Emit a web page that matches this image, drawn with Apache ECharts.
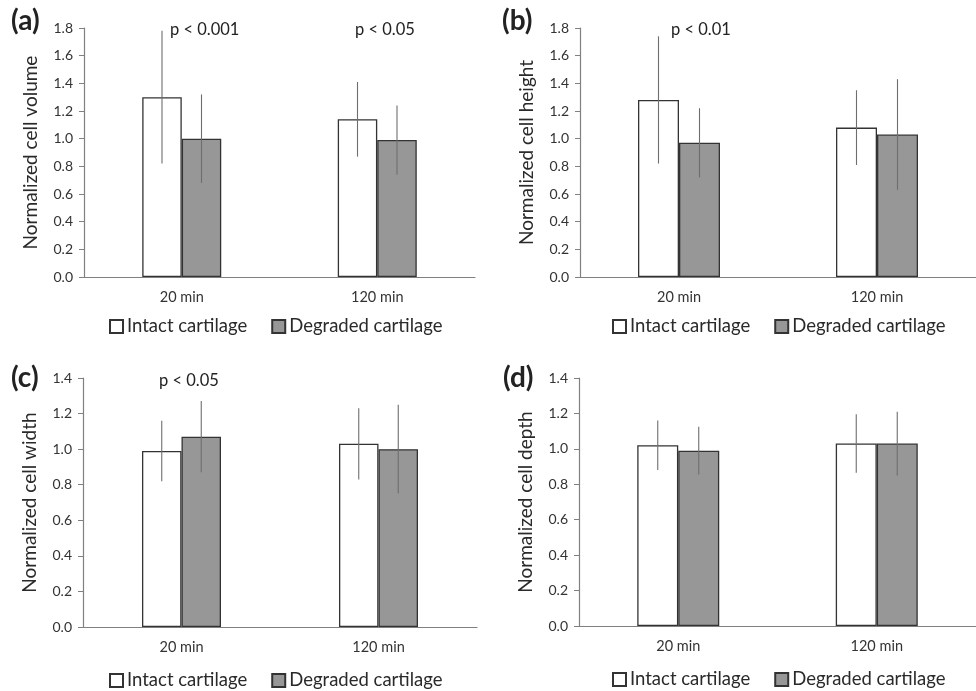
<!DOCTYPE html>
<html>
<head>
<meta charset="utf-8">
<script src="https://cdn.jsdelivr.net/npm/echarts@6/dist/echarts.min.js"></script>
<style>
  html, body { margin: 0; padding: 0; background: #fff; }
  #main { width: 976px; height: 691px; }
</style>
</head>
<body>
<div id="main"></div>
<script>
// categories and series values (mean, error)
var categories = ['20 min', '120 min'];
var seriesNames = ['Intact cartilage', 'Degraded cartilage'];

var volumeIntact = [1.30, 1.14];
var volumeIntactErr = [0.48, 0.27];
var volumeDegraded = [1.00, 0.99];
var volumeDegradedErr = [0.32, 0.25];

var heightIntact = [1.28, 1.08];
var heightIntactErr = [0.46, 0.27];
var heightDegraded = [0.97, 1.03];
var heightDegradedErr = [0.25, 0.40];

var widthIntact = [0.99, 1.03];
var widthIntactErr = [0.17, 0.20];
var widthDegraded = [1.07, 1.00];
var widthDegradedErr = [0.20, 0.25];

var depthIntact = [1.02, 1.03];
var depthIntactErr = [0.14, 0.165];
var depthDegraded = [0.99, 1.03];
var depthDegradedErr = [0.135, 0.18];

var FONT = 'Lato, "Open Sans", sans-serif';

var panels = [
  { tag: '(a)', name: 'Normalized cell volume', max: 1.8, grid: { left: 84, top: 28, width: 391, height: 249 }, bw: 39.5,
    intact: volumeIntact, intactErr: volumeIntactErr, degraded: volumeDegraded, degradedErr: volumeDegradedErr,
    legend: { left: 104, top: 312 }, tagPos: [11, 7] },
  { tag: '(b)', name: 'Normalized cell height', max: 1.8, grid: { left: 580, top: 28, width: 407, height: 249 }, bw: 41,
    intact: heightIntact, intactErr: heightIntactErr, degraded: heightDegraded, degradedErr: heightDegradedErr,
    legend: { left: 607, top: 312 }, tagPos: [502, 7] },
  { tag: '(c)', name: 'Normalized cell width', max: 1.4, grid: { left: 83, top: 378, width: 394, height: 249 }, bw: 39.5,
    intact: widthIntact, intactErr: widthIntactErr, degraded: widthDegraded, degradedErr: widthDegradedErr,
    legend: { left: 104, top: 666 }, tagPos: [11, 364] },
  { tag: '(d)', name: 'Normalized cell depth', max: 1.4, grid: { left: 579, top: 378, width: 407, height: 248 }, bw: 41,
    intact: depthIntact, intactErr: depthIntactErr, degraded: depthDegraded, degradedErr: depthDegradedErr,
    legend: { left: 607, top: 665 }, tagPos: [503, 364] }
];

function errorBars(offset) {
  return function (params, api) {
    var c = api.value(0);
    var lo = api.coord([c, api.value(1)]);
    var hi = api.coord([c, api.value(2)]);
    return {
      type: 'line',
      shape: { x1: lo[0] + offset, y1: lo[1], x2: hi[0] + offset, y2: hi[1] },
      style: { stroke: '#6e6e6e', lineWidth: 1.1 }
    };
  };
}

function errData(mean, err) {
  return mean.map(function (m, i) { return [i, m - err[i], m + err[i]]; });
}

var grids = [], xAxes = [], yAxes = [], series = [], legends = [], graphics = [];

panels.forEach(function (p, k) {
  grids.push(p.grid);
  xAxes.push({
    type: 'category', gridIndex: k, data: categories,
    axisLine: { lineStyle: { color: '#808080', width: 1.2 } },
    axisTick: { show: false },
    axisLabel: { color: '#333', fontSize: 14.5, fontFamily: FONT, margin: 13 }
  });
  yAxes.push({
    type: 'value', gridIndex: k, min: 0, max: p.max, interval: 0.2,
    name: p.name, nameLocation: 'middle', nameGap: 44,
    nameTextStyle: { color: '#2a2a2a', fontSize: 19, fontFamily: FONT },
    axisLine: { show: true, lineStyle: { color: '#808080', width: 1.2 } },
    axisTick: { show: true, length: 5, lineStyle: { color: '#808080' } },
    splitLine: { show: false },
    axisLabel: { color: '#333', fontSize: 14, fontFamily: FONT, margin: 11,
      formatter: function (v) { return v.toFixed(1); } }
  });
  series.push({
    name: seriesNames[0], type: 'bar', xAxisIndex: k, yAxisIndex: k,
    data: p.intact, barWidth: p.bw, barGap: '0%',
    itemStyle: { color: '#ffffff', borderColor: '#333', borderWidth: 1.3 }
  });
  series.push({
    name: seriesNames[1], type: 'bar', xAxisIndex: k, yAxisIndex: k,
    data: p.degraded, barWidth: p.bw, barGap: '0%',
    itemStyle: { color: '#979797', borderColor: '#333', borderWidth: 1.3 }
  });
  series.push({
    type: 'custom', xAxisIndex: k, yAxisIndex: k, z: 5,
    renderItem: errorBars(-p.bw / 2), data: errData(p.intact, p.intactErr)
  });
  series.push({
    type: 'custom', xAxisIndex: k, yAxisIndex: k, z: 5,
    renderItem: errorBars(p.bw / 2), data: errData(p.degraded, p.degradedErr)
  });
  legends.push({
    data: seriesNames, left: p.legend.left, top: p.legend.top,
    icon: 'rect', itemWidth: 13, itemHeight: 13, itemGap: 24, selectedMode: false,
    textStyle: { color: '#2a2a2a', fontSize: 18.5, fontFamily: FONT, padding: [0, 0, 0, -1] }
  });
  graphics.push({ type: 'text', left: p.tagPos[0], top: p.tagPos[1],
    style: { text: p.tag, font: 'bold 28px ' + FONT, fill: '#222' } });
});

var pLabels = [
  { text: 'p < 0.001', x: 170, y: 21 },
  { text: 'p < 0.05', x: 355, y: 21 },
  { text: 'p < 0.01', x: 671, y: 21 },
  { text: 'p < 0.05', x: 159, y: 372 }
];
pLabels.forEach(function (l) {
  graphics.push({ type: 'text', left: l.x, top: l.y,
    style: { text: l.text, font: '16.5px ' + FONT, fill: '#222' } });
});

var chart = echarts.init(document.getElementById('main'));
chart.setOption({
  backgroundColor: '#ffffff',
  animation: false,
  grid: grids,
  xAxis: xAxes,
  yAxis: yAxes,
  legend: legends,
  series: series,
  graphic: graphics
});
</script>
</body>
</html>
